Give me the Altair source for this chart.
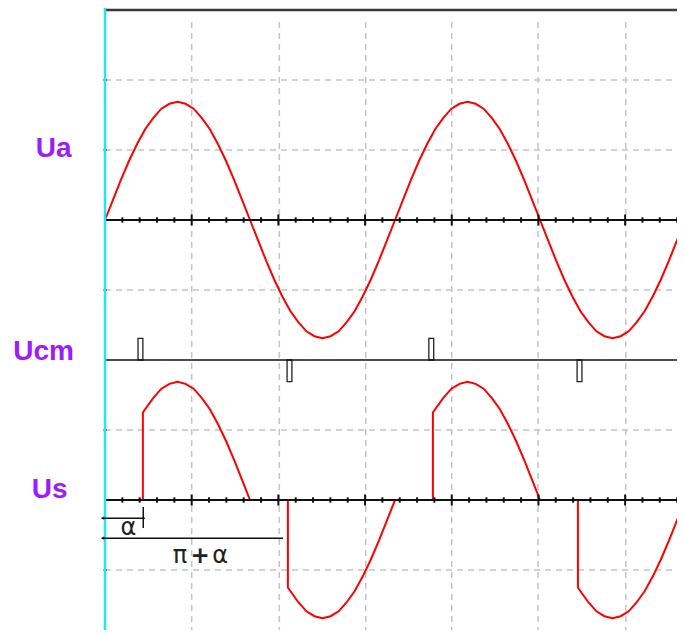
import altair as alt
import pandas as pd

# ---- values (angles in degrees, voltages in grid divisions) ----
ua_half_deg = [0, 10, 20, 30, 40, 50, 60, 70, 80, 90, 100, 110, 120, 130, 140, 150, 160, 170, 180]
ua_half_val = [0, 0.29, 0.58, 0.85, 1.09, 1.30, 1.46, 1.59, 1.66, 1.69, 1.66, 1.59, 1.46, 1.30, 1.09, 0.85, 0.58, 0.29, 0]
half_waves = [0, 1, 2, 3]              # four half-cycles over 0..720 deg
alpha_deg = 47                         # firing angle
us_jump = 1.25                         # Us value right after firing
pulse_start = [41, 226, 402, 586]      # control pulses Ucm
pulse_width = 6
pulse_height = [0.31, -0.31, 0.31, -0.31]
grid_x = [107.6, 216.4, 323.6, 430.4, 537.5, 646.4]
grid_y = [8, 7, 5, 3, 1]
channel_names = ["Ua", "Ucm", "Us"]
channel_base = [6, 4, 2]
label_x = [-86, -114, -91]
label_y = [6.9, 4.0, 2.03]
top_level = 9
x_max = 720
x_view = 710          # visible part of the angle axis (the picture is cut at the right edge)
y_view = 0.143        # visible bottom of the picture

xs = alt.Scale(domain=[0, x_view], nice=False, zero=False)
ys = alt.Scale(domain=[y_view, top_level], nice=False, zero=False)

def X(field="x"):
    return alt.X(field, type="quantitative", scale=xs, axis=None)

def Y(field="y"):
    return alt.Y(field, type="quantitative", scale=ys, axis=None)

# ---- build tables ----
ua_rows, us_rows = [], []
base_ua, base_ucm, base_us = channel_base
for k in half_waves:
    s = k * 180
    sign = 1 if k % 2 == 0 else -1
    for j, (d, v) in enumerate(zip(ua_half_deg, ua_half_val)):
        if k > 0 and j == 0:
            continue
        ua_rows.append({"x": s + d, "y": base_ua + sign * v})
    # Us: zero until firing, then follows the supply
    if k == 0:
        us_rows.append({"x": s, "y": base_us})
    us_rows.append({"x": s + alpha_deg, "y": base_us})
    us_rows.append({"x": s + alpha_deg, "y": base_us + sign * us_jump})
    for d, v in zip(ua_half_deg, ua_half_val):
        if d > alpha_deg:
            us_rows.append({"x": s + d, "y": base_us + sign * v})
ua_df = pd.DataFrame(ua_rows)
ua_df["i"] = range(len(ua_df))
us_df = pd.DataFrame(us_rows)
us_df["i"] = range(len(us_df))

pulse_df = pd.DataFrame({
    "x": pulse_start,
    "x2": [p + pulse_width for p in pulse_start],
    "y": [base_ucm] * len(pulse_start),
    "y2": [base_ucm + h for h in pulse_height],
})

hgrid_df = pd.DataFrame({"y": grid_y, "x": [0] * len(grid_y), "x2": [x_max] * len(grid_y)})
vgrid_df = pd.DataFrame({"x": grid_x, "y": [-1] * len(grid_x), "y2": [top_level - 0.1] * len(grid_x)})

div = grid_x[0]
tick_rows = []
for base in (base_ua, base_us):
    n = 1
    while n * div / 5 <= x_max + 0.1:
        pos = n * div / 5
        h = 0.079 if n % 5 == 0 else 0.039
        tick_rows.append({"x": pos, "y": base - h, "y2": base + h})
        n += 1
tick_df = pd.DataFrame(tick_rows)

axis_df = pd.DataFrame({"y": channel_base, "x": [0] * 3, "x2": [x_max] * 3, "w": [2, 1.5, 2]})
label_df = pd.DataFrame({"name": channel_names, "x": label_x, "y": label_y})

# ---- layers ----
hgrid = alt.Chart(hgrid_df).mark_rule(color="#c4c4c4", strokeDash=[6, 5], strokeWidth=1.5).encode(
    x=X(), x2="x2", y=Y())
vgrid = alt.Chart(vgrid_df).mark_rule(color="#c4c4c4", strokeDash=[6, 5], strokeWidth=1.5).encode(
    x=X(), y=Y(), y2="y2")
red_marks = alt.Chart(pd.DataFrame({"y": grid_y + [top_level + 0.04], "x": [-2] * 6, "x2": [2.5] * 6})).mark_rule(
    color="#ff2020", strokeWidth=2).encode(x=X(), x2="x2", y=Y())
top_line = alt.Chart(pd.DataFrame({"y": [top_level], "x": [0], "x2": [x_max]})).mark_rule(
    color="#383838", strokeWidth=2.5).encode(x=X(), x2="x2", y=Y())
axes = alt.Chart(axis_df).mark_rule(color="#111111").encode(
    x=X(), x2="x2", y=Y(), strokeWidth=alt.StrokeWidth("w:Q", scale=None, legend=None))
ticks = alt.Chart(tick_df).mark_rule(color="#111111", strokeWidth=2).encode(x=X(), y=Y(), y2="y2")
pulses = alt.Chart(pulse_df).mark_rect(fill="white", stroke="#222222", strokeWidth=1.3).encode(
    x=X(), x2="x2", y=Y(), y2="y2")
ua_line = alt.Chart(ua_df).mark_line(color="#ff0000", strokeWidth=2).encode(
    x=X(), y=Y(), order="i:Q")
us_line = alt.Chart(us_df).mark_line(color="#ff0000", strokeWidth=2).encode(
    x=X(), y=Y(), order="i:Q")
cyan = alt.Chart(pd.DataFrame({"x": [0], "y": [-0.5], "y2": [top_level + 0.03]})).mark_rule(
    color="#1ee8f0", strokeWidth=2.5).encode(x=X(), y=Y(), y2="y2")
labels = alt.Chart(label_df).mark_text(
    align="left", baseline="alphabetic", font="Liberation Sans", fontWeight="bold",
    fontSize=28, color="#9b1cff").encode(x=X(), y=Y(), text="name:N")

# annotations: alpha and pi+alpha
ann_lines = alt.Chart(pd.DataFrame({"x": [-4, -4], "x2": [49.5, 221], "y": [1.74, 1.455]})).mark_rule(
    color="#111111", strokeWidth=1.5).encode(x=X(), x2="x2", y=Y())
ann_tick = alt.Chart(pd.DataFrame({"x": [47.5], "y": [1.6], "y2": [1.9]})).mark_rule(
    color="#111111", strokeWidth=1.5).encode(x=X(), y=Y(), y2="y2")
ann_heads = alt.Chart(pd.DataFrame({"x": [-3, -3], "y": [1.74, 1.455]})).mark_point(
    shape="triangle-left", filled=True, color="#111111", size=14).encode(x=X(), y=Y())
ann_text = alt.Chart(pd.DataFrame({"x": [29, 93, 143], "y": [1.5, 1.1, 1.1],
                                   "t": ["α", "π", "α"]})).mark_text(
    align="center", baseline="alphabetic", font="DejaVu Sans", fontSize=24, color="#222222").encode(
    x=X(), y=Y(), text="t:N")
ann_plus = alt.Chart(pd.DataFrame({"x": [118], "y": [1.1], "t": ["+"]})).mark_text(
    align="center", baseline="alphabetic", font="DejaVu Sans", fontWeight="bold", fontSize=23,
    color="#222222").encode(x=X(), y=Y(), text="t:N")

chart = alt.layer(
    hgrid, vgrid, red_marks, top_line, pulses, ua_line, us_line, axes, ticks, cyan,
    labels, ann_lines, ann_tick, ann_heads, ann_text, ann_plus
).properties(
    width=572, height=620,
    autosize=alt.AutoSizeParams(type="none"),
    padding={"left": 97, "top": 2, "right": 0, "bottom": 0},
).configure_view(stroke=None)

chart.save("out.html", embed_options={"renderer": "svg", "actions": False})
